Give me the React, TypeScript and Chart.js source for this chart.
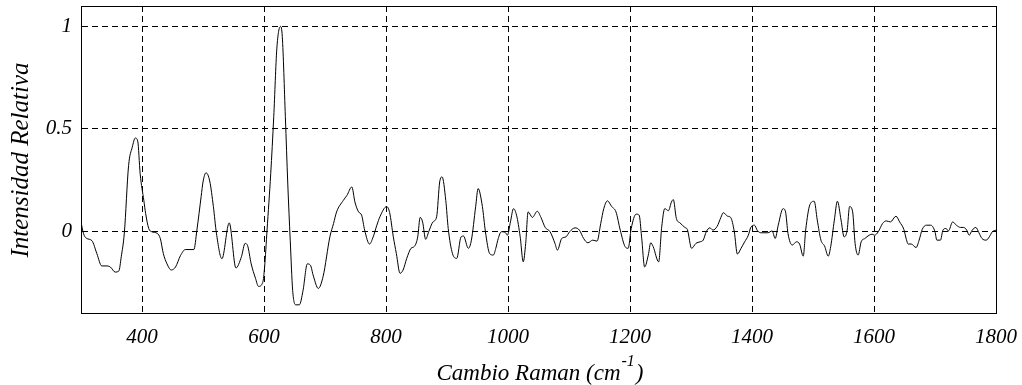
import React, { useEffect, useRef } from "react";
import { Chart, registerables } from "chart.js";

Chart.register(...registerables);

// Raman shift (cm^-1)
const ramanShift: number[] = [
  300, 304, 309, 318, 326, 334, 341, 348, 356, 362, 366, 371, 378, 384, 389, 393, 397, 403, 406, 411,
  416, 425, 430, 435, 441, 448, 455, 463, 471, 485, 490, 497, 500, 505, 511, 517, 522, 531, 543, 554,
  563, 569, 573, 579, 586, 591, 598, 601, 605, 611, 616, 621, 627, 630, 635, 639, 643, 647, 652, 658,
  664, 671, 676, 681, 689, 697, 708, 714, 719, 730, 736, 744, 749, 755, 760, 765, 773, 779, 785, 790,
  801, 806, 812, 817, 823, 828, 834, 841, 847, 852, 856, 860, 865, 870, 877, 883, 888, 892, 898, 902,
  909, 916, 923, 927, 935, 940, 947, 951, 958, 963, 970, 976, 980, 984, 989, 996, 999, 1004, 1009, 1014,
  1020, 1025, 1029, 1033, 1040, 1048, 1054, 1061, 1069, 1077, 1081, 1088, 1095, 1101, 1110, 1117, 1124, 1131, 1139, 1146,
  1152, 1157, 1163, 1170, 1177, 1184, 1192, 1197, 1202, 1210, 1215, 1219, 1224, 1230, 1234, 1238, 1247, 1252, 1257, 1263,
  1268, 1271, 1276, 1282, 1290, 1294, 1301, 1308, 1315, 1320, 1325, 1331, 1336, 1343, 1349, 1353, 1360, 1365, 1371, 1376,
  1382, 1388, 1394, 1398, 1404, 1409, 1415, 1426, 1433, 1438, 1443, 1451, 1455, 1459, 1466, 1473, 1478, 1484, 1488, 1495,
  1502, 1507, 1513, 1519, 1525, 1529, 1535, 1540, 1546, 1551, 1556, 1560, 1565, 1569, 1574, 1579, 1585, 1592, 1597, 1601,
  1607, 1614, 1620, 1627, 1636, 1642, 1649, 1653, 1656, 1661, 1669, 1674, 1679, 1686, 1693, 1700, 1703, 1709, 1713, 1718,
  1722, 1729, 1735, 1742, 1747, 1752, 1756, 1761, 1767, 1772, 1777, 1784, 1789, 1794, 1800,
];

// Relative intensity
const intensity: number[] = [
  0.045, -0.011, -0.035, -0.047, -0.11, -0.17, -0.17, -0.175, -0.2, -0.195, -0.125, -0.01, 0.32, 0.41, 0.455, 0.44, 0.28, 0.15, 0.086, 0.013,
  -0.003, -0.011, -0.036, -0.11, -0.16, -0.19, -0.175, -0.12, -0.09, -0.09, 0.005, 0.17, 0.24, 0.285, 0.245, 0.12, -0.01, -0.135, 0.04, -0.18,
  -0.125, -0.06, -0.07, -0.16, -0.23, -0.27, -0.25, -0.175, 0.005, 0.28, 0.56, 0.89, 1.0, 0.95, 0.56, 0.23, -0.044, -0.29, -0.36, -0.36,
  -0.29, -0.16, -0.166, -0.22, -0.28, -0.22, -0.028, 0.037, 0.094, 0.15, 0.175, 0.216, 0.143, 0.094, 0.078, 0.005, -0.063, -0.028, 0.029, 0.07,
  0.12, 0.09, -0.028, -0.11, -0.206, -0.19, -0.133, -0.084, -0.073, -0.028, 0.067, 0.045, -0.04, -0.003, 0.045, 0.07, 0.24, 0.265, 0.15, 0.013,
  -0.11, -0.133, -0.028, -0.024, -0.084, -0.044, 0.12, 0.208, 0.12, -0.003, -0.11, -0.117, -0.084, -0.036, -0.003, -0.008, -0.02, 0.045, 0.11, 0.078,
  -0.028, -0.15, -0.06, 0.094, 0.067, 0.097, 0.067, 0.018, -0.003, -0.06, -0.093, -0.036, -0.028, -0.003, 0.016, 0.005, -0.036, -0.057, -0.044, -0.049,
  0.037, 0.11, 0.148, 0.12, 0.094, 0.005, -0.076, -0.084, 0.013, 0.083, 0.078, -0.028, -0.175, -0.117, -0.057, -0.076, -0.15, 0.021, 0.11, 0.1,
  0.143, 0.154, 0.062, 0.04, 0.018, 0.008, -0.084, -0.06, -0.052, -0.044, -0.003, 0.016, 0.005, 0.024, 0.067, 0.09, 0.073, 0.067, -0.003, -0.112,
  -0.084, -0.052, -0.02, 0.018, 0.029, 0.002, -0.008, -0.008, 0.001, -0.036, 0.029, 0.11, 0.094, -0.011, -0.068, -0.052, -0.063, -0.122, 0.005, 0.13,
  0.146, 0.054, -0.044, -0.073, -0.122, -0.076, 0.054, 0.146, 0.054, -0.028, 0.005, 0.12, 0.094, -0.06, -0.117, -0.052, -0.036, -0.02, -0.015, -0.02,
  -0.003, 0.037, 0.05, 0.045, 0.073, 0.045, 0.008, -0.04, -0.063, -0.063, -0.08, -0.044, 0.008, 0.029, 0.029, -0.003, -0.044, -0.044, 0.005, 0.013,
  0.001, 0.045, 0.029, 0.018, 0.018, 0.005, -0.02, 0.005, 0.018, -0.008, -0.036, -0.044, -0.028, -0.003, 0.005,
];

const xTickValues: number[] = [400, 600, 800, 1000, 1200, 1400, 1600, 1800];
const yTickValues: number[] = [0, 0.5, 1];
const xTitle = "Cambio Raman (cm";
const xTitleSup = "-1";
const yTitle = "Intensidad Relativa";

const SERIF = '"Liberation Serif", "Times New Roman", serif';

export default function App() {
  const canvasRef = useRef<HTMLCanvasElement | null>(null);

  useEffect(() => {
    document.body.style.margin = "0";
    const canvas = canvasRef.current;
    if (!canvas) return;

    const titlesPlugin = {
      id: "titlesAndFrame",
      afterDraw(chart: any) {
        const ctx = chart.ctx as CanvasRenderingContext2D;
        const a = chart.chartArea;
        ctx.save();
        ctx.strokeStyle = "#000";
        ctx.lineWidth = 1;
        ctx.setLineDash([]);
        ctx.strokeRect(Math.round(a.left) + 0.5, Math.round(a.top) + 0.5, Math.round(a.right - a.left), Math.round(a.bottom - a.top));

        ctx.fillStyle = "#000";
        // y title
        ctx.save();
        ctx.font = `italic 25px ${SERIF}`;
        ctx.textAlign = "center";
        ctx.textBaseline = "alphabetic";
        ctx.translate(28, 160);
        ctx.rotate(-Math.PI / 2);
        ctx.fillText(yTitle, 0, 0);
        ctx.restore();

        // x title with superscript
        ctx.font = `italic 23px ${SERIF}`;
        ctx.textAlign = "left";
        ctx.textBaseline = "alphabetic";
        const w1 = ctx.measureText(xTitle).width;
        ctx.font = `italic 16px ${SERIF}`;
        const w2 = ctx.measureText(xTitleSup).width;
        ctx.font = `italic 23px ${SERIF}`;
        const w3 = ctx.measureText(")").width;
        const total = w1 + w2 + w3 + 2;
        let x = 540 - total / 2;
        const base = 380;
        ctx.fillText(xTitle, x, base);
        x += w1 + 1;
        ctx.font = `italic 16px ${SERIF}`;
        ctx.fillText(xTitleSup, x, base - 14);
        x += w2 + 1;
        ctx.font = `italic 23px ${SERIF}`;
        ctx.fillText(")", x, base);
        ctx.restore();
      },
    };

    const points = ramanShift.map((x, i) => ({ x, y: intensity[i] }));

    const chart = new Chart(canvas, {
      type: "line",
      data: {
        datasets: [
          {
            data: points,
            borderColor: "#000",
            borderWidth: 1,
            pointRadius: 0,
            fill: false,
            cubicInterpolationMode: "monotone",
          },
        ],
      },
      options: {
        responsive: false,
        animation: false,
        devicePixelRatio: 1,
        layout: { padding: { left: 0, right: 26, top: 6, bottom: 0 } },
        plugins: { legend: { display: false }, tooltip: { enabled: false } },
        scales: {
          x: {
            type: "linear",
            min: 300,
            max: 1800,
            afterBuildTicks: (scale: any) => {
              scale.ticks = xTickValues.map((v) => ({ value: v }));
            },
            afterFit: (scale: any) => {
              scale.height = 72;
              scale.paddingLeft = 0;
              scale.paddingRight = 0;
            },
            grid: { color: "#000", lineWidth: 1, drawTicks: false },
            border: { display: true, color: "#000", width: 1, dash: [6, 4] },
            ticks: {
              color: "#000",
              padding: 12,
              maxRotation: 0,
              autoSkip: false,
              font: { family: SERIF, style: "italic", size: 21 },
              callback: (v: any) => String(v),
            },
          },
          y: {
            type: "linear",
            min: -0.4,
            max: 1.1,
            afterBuildTicks: (scale: any) => {
              scale.ticks = yTickValues.map((v) => ({ value: v }));
            },
            afterFit: (scale: any) => {
              scale.width = 81;
              scale.paddingTop = 0;
              scale.paddingBottom = 0;
            },
            grid: { color: "#000", lineWidth: 1, drawTicks: false },
            border: { display: true, color: "#000", width: 1, dash: [6, 4] },
            ticks: {
              color: "#000",
              padding: 9,
              font: { family: SERIF, style: "italic", size: 21 },
              callback: (v: any) => String(v),
            },
          },
        },
      },
      plugins: [titlesPlugin],
    } as any);

    return () => chart.destroy();
  }, []);

  return (
    <div style={{ width: 1022, height: 385 }}>
      <canvas ref={canvasRef} width={1022} height={385} style={{ display: "block" }} />
    </div>
  );
}
